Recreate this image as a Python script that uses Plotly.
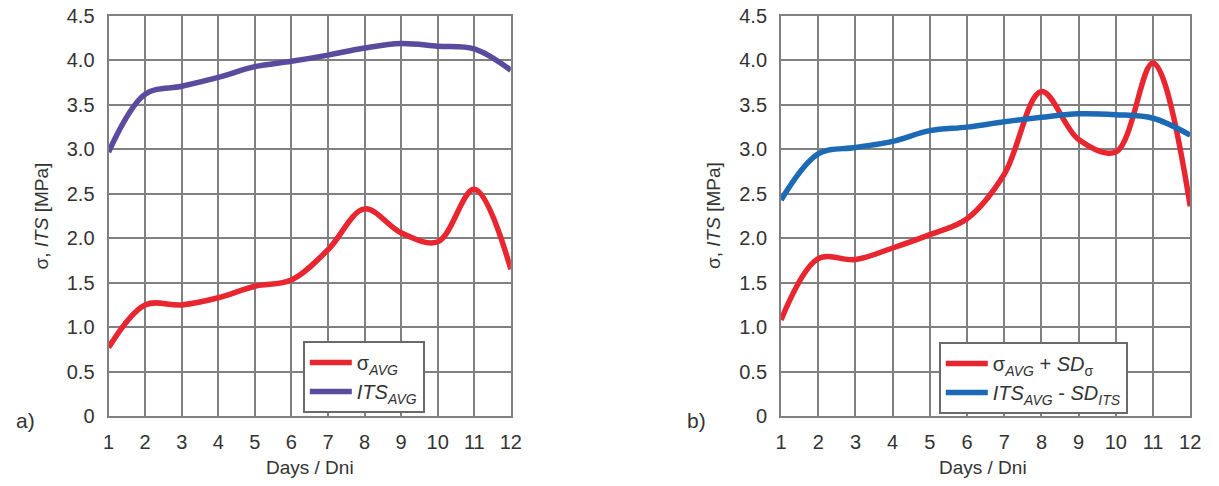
import plotly.graph_objects as go

days = [1, 2, 3, 4, 5, 6, 7, 8, 9, 10, 11, 12]

# panel a)
sigma_avg = [0.77, 1.25, 1.25, 1.33, 1.46, 1.53, 1.87, 2.33, 2.06, 1.96, 2.55, 1.65]
its_avg = [2.97, 3.62, 3.71, 3.81, 3.93, 3.99, 4.06, 4.14, 4.19, 4.16, 4.13, 3.89]

# panel b)
sigma_plus_sd = [1.08, 1.77, 1.76, 1.89, 2.04, 2.22, 2.72, 3.65, 3.11, 2.97, 3.97, 2.36]
its_minus_sd = [2.43, 2.95, 3.02, 3.09, 3.21, 3.25, 3.31, 3.36, 3.40, 3.39, 3.35, 3.16]

y_ticks = [0, 0.5, 1.0, 1.5, 2.0, 2.5, 3.0, 3.5, 4.0, 4.5]
y_ticktext = ["0", "0.5", "1.0", "1.5", "2.0", "2.5", "3.0", "3.5", "4.0", "4.5"]

RED = "#E8262F"
PURPLE = "#5B4B9E"
BLUE = "#1C6AB5"
GRID = "#808080"
TEXT = "#333333"
FONT = "Liberation Sans, Arial, sans-serif"

W, H = 1219, 486
ML, MR, MT, MB = 0, 0, 16, 70

fig = go.Figure()

fig.add_trace(go.Scatter(x=days, y=sigma_avg, mode="lines", line=dict(color=RED, width=5.5, shape="spline"),
                         name="σ<sub><i>AVG</i></sub>", xaxis="x", yaxis="y", legend="legend"))
fig.add_trace(go.Scatter(x=days, y=its_avg, mode="lines", line=dict(color=PURPLE, width=5.5, shape="spline"),
                         name="<i>ITS<sub>AVG</sub></i>", xaxis="x", yaxis="y", legend="legend"))
fig.add_trace(go.Scatter(x=days, y=sigma_plus_sd, mode="lines", line=dict(color=RED, width=5.5, shape="spline"),
                         name="σ<sub><i>AVG</i></sub> + <i>SD</i><sub>σ</sub>", xaxis="x2", yaxis="y2", legend="legend2"))
fig.add_trace(go.Scatter(x=days, y=its_minus_sd, mode="lines", line=dict(color=BLUE, width=5.5, shape="spline"),
                         name="<i>ITS<sub>AVG</sub></i> - <i>SD<sub>ITS</sub></i>", xaxis="x2", yaxis="y2", legend="legend2"))

pw = W - ML - MR
ph = H - MT - MB

def px_x(p):
    return (p - ML) / pw

def px_y(p):
    return (H - MB - p) / ph

axis_common = dict(showgrid=True, gridcolor=GRID, gridwidth=2, showline=True, linecolor=GRID, linewidth=2,
                   mirror=True, zeroline=False, ticks="", tickfont=dict(size=20, color=TEXT, family=FONT))

xa = dict(axis_common, range=[1, 12], tickvals=days, ticktext=[str(d) for d in days], ticklabelstandoff=7)
ya = dict(axis_common, range=[0, 4.5], tickvals=y_ticks, ticktext=y_ticktext, ticklabelstandoff=8)

legend_common = dict(bgcolor="white", bordercolor="#6a6a6a", borderwidth=2,
                     font=dict(size=20, color=TEXT, family=FONT), xanchor="left", yanchor="top",
                     tracegroupgap=0, itemwidth=42)

annotations = []
for xc, lab in [(36, "σ, <i>ITS</i> [MPa]"), (717, "σ, <i>ITS</i> [MPa]")]:
    annotations.append(dict(x=px_x(xc), y=px_y(216), xref="paper", yref="paper", text=lab, textangle=-90,
                            showarrow=False, font=dict(size=19, color=TEXT, family=FONT),
                            xanchor="center", yanchor="middle"))
for xc in [308, 991]:
    annotations.append(dict(x=px_x(xc), y=px_y(467), xref="paper", yref="paper", text="Days / Dni",
                            showarrow=False, font=dict(size=19, color=TEXT, family=FONT),
                            xanchor="center", yanchor="middle"))
for xc, lab in [(20, "a)"), (700, "b)")]:
    annotations.append(dict(x=px_x(xc), y=px_y(420), xref="paper", yref="paper", text=lab,
                            showarrow=False, font=dict(size=21, color=TEXT, family=FONT),
                            xanchor="center", yanchor="middle"))

fig.update_layout(
    width=W, height=H,
    margin=dict(l=ML, r=MR, t=MT, b=MB),
    paper_bgcolor="white", plot_bgcolor="white",
    font=dict(family=FONT, color=TEXT),
    xaxis=dict(xa, domain=[px_x(104), px_x(512)], anchor="y"),
    yaxis=dict(ya, domain=[0, 1], anchor="x"),
    xaxis2=dict(xa, domain=[px_x(786), px_x(1201)], anchor="y2"),
    yaxis2=dict(ya, domain=[0, 1], anchor="x2"),
    legend=dict(legend_common, x=px_x(301), y=px_y(341)),
    legend2=dict(legend_common, x=px_x(946), y=px_y(342)),
    annotations=annotations,
    showlegend=True,
)

fig.write_html("out.html")
